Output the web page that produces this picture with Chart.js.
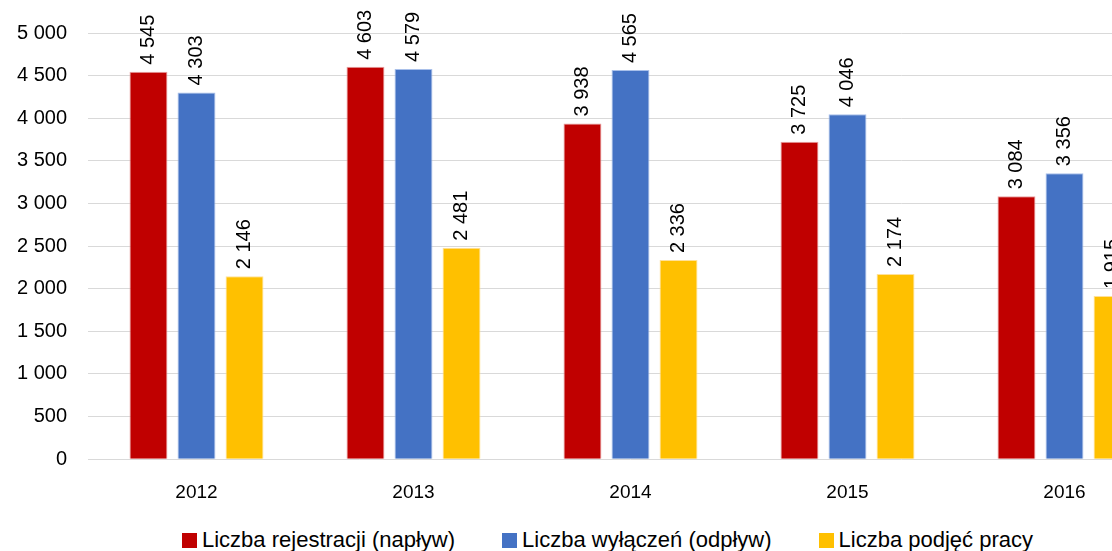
<!DOCTYPE html>
<html>
<head>
<meta charset="utf-8">
<script src="https://cdn.jsdelivr.net/npm/chart.js@4"></script>
<style>
  html, body { margin: 0; padding: 0; background: #fff; overflow: hidden; }
  #wrap { width: 1192px; height: 518px; position: relative; }
  #legend {
    position: absolute; left: 0; top: 527px; width: 1215px;
    display: flex; justify-content: center; gap: 47px;
    font-family: 'Liberation Sans', sans-serif; font-size: 22px; color: #000;
  }
  #legend span.item { display: flex; align-items: center; }
  #legend span.box { display: inline-block; width: 15px; height: 15px; margin-right: 5px; }
</style>
</head>
<body>
<div id="wrap"><canvas id="chart"></canvas></div>
<div id="legend"></div>
<script>
// data
var years = ["2012", "2013", "2014", "2015", "2016"];
var registrations = [4545, 4603, 3938, 3725, 3084];
var removals = [4303, 4579, 4565, 4046, 3356];
var jobs = [2146, 2481, 2336, 2174, 1915];

var fontFamily = "'Liberation Sans', sans-serif";

function fmt(v) {
    // thousands separated with a space, like "4 545"
    return String(v).replace(/\B(?=(\d{3})+(?!\d))/g, " ");
}

// draws the rotated value above each bar
var barLabels = {
    id: "barLabels",
    afterDatasetsDraw: function(chart) {
        var ctx = chart.ctx;
        ctx.save();
        ctx.font = "20px " + fontFamily;
        ctx.fillStyle = "#000";
        ctx.textAlign = "left";
        ctx.textBaseline = "middle";
        chart.data.datasets.forEach(function(ds, i) {
            chart.getDatasetMeta(i).data.forEach(function(bar, j) {
                ctx.save();
                ctx.translate(bar.x, bar.y - 7);
                ctx.rotate(-Math.PI / 2);
                ctx.fillText(fmt(ds.data[j]), 0, 0);
                ctx.restore();
            });
        });
        ctx.restore();
    }
};

function buildLegend(chart) {
    // html legend under the chart, made from the datasets
    var box = document.getElementById("legend");
    chart.data.datasets.forEach(function(ds) {
        var item = document.createElement("span");
        item.className = "item";
        var sq = document.createElement("span");
        sq.className = "box";
        sq.style.background = ds.backgroundColor;
        item.appendChild(sq);
        item.appendChild(document.createTextNode(ds.label));
        box.appendChild(item);
    });
}

function main() {
    var chart = new Chart(document.getElementById("chart"), {
        type: "bar",
        data: {
            labels: years,
            datasets: [
                { label: "Liczba rejestracji (napływ)", data: registrations, backgroundColor: "#c00000", borderColor: "#e8a0a0", borderWidth: 1 },
                { label: "Liczba wyłączeń (odpływ)", data: removals, backgroundColor: "#4472c4", borderColor: "#a9c0ea", borderWidth: 1 },
                { label: "Liczba podjęć pracy", data: jobs, backgroundColor: "#ffc000", borderColor: "#ffe199", borderWidth: 1 }
            ]
        },
        options: {
            responsive: true,
            maintainAspectRatio: false,
            animation: false,
            layout: { padding: { top: 16, right: 19, left: 8, bottom: 0 } },
            datasets: { bar: { categoryPercentage: 0.664, barPercentage: 0.79 } },
            scales: {
                x: {
                    grid: { display: false },
                    border: { display: false },
                    ticks: { color: "#000", font: { family: fontFamily, size: 19 }, padding: 14 }
                },
                y: {
                    min: 0, max: 5000,
                    afterFit: function(scale) { scale.width = 80; },
                    ticks: {
                        stepSize: 500,
                        color: "#000",
                        padding: 21,
                        font: { family: fontFamily, size: 20 },
                        callback: function(v) { return fmt(v); }
                    },
                    grid: { color: "#d9d9d9", lineWidth: 1, drawTicks: false },
                    border: { display: false }
                }
            },
            plugins: {
                tooltip: { enabled: false },
                legend: { display: false }
            }
        },
        plugins: [barLabels]
    });
    buildLegend(chart);
}

main();
</script>
</body>
</html>
